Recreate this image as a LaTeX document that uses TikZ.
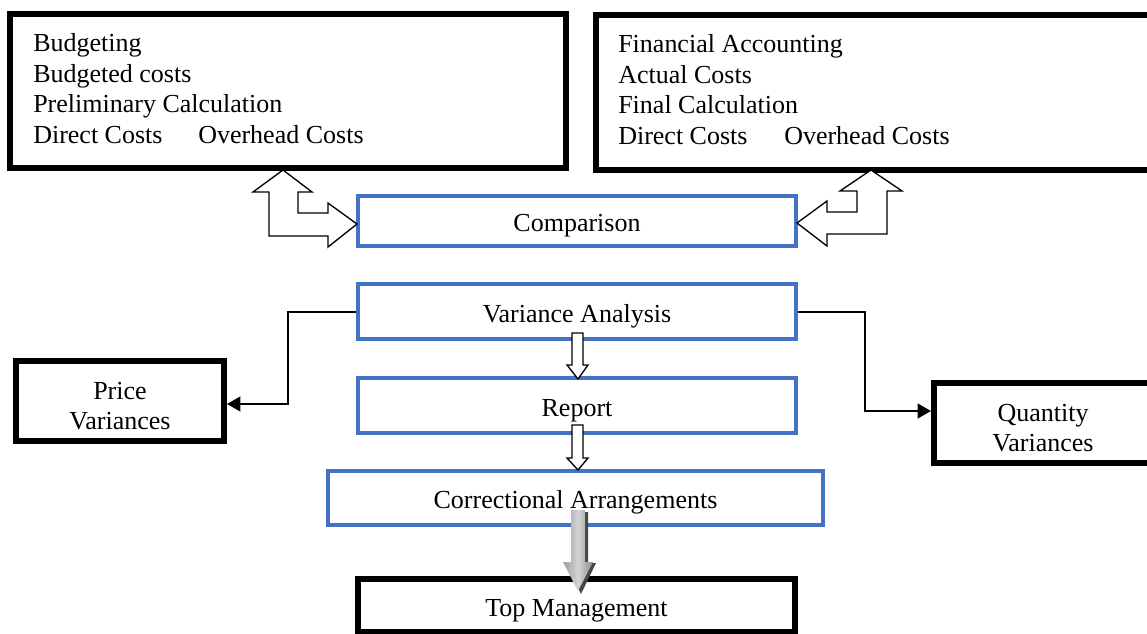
\documentclass[tikz,border=0pt]{standalone}
\usepackage{fontspec}
\setmainfont{Liberation Serif}
\usetikzlibrary{arrows.meta,calc}
\definecolor{boxblue}{HTML}{4472C4}
\tikzset{
  lbl/.style={font=\fontsize{19.5}{22.5}\selectfont, inner sep=0pt},
  blackbox/.style={draw=black, line width=4.5pt, fill=white, inner sep=0pt, font=\fontsize{19.5}{22.5}\selectfont, text height=16pt, text depth=0pt},
  bluebox/.style={draw=boxblue, line width=3pt, fill=white, inner sep=0pt, font=\fontsize{19.5}{22.5}\selectfont, text height=16pt, text depth=0pt},
  conn/.style={draw=black, line width=1.5pt, -{Triangle[length=10pt,width=11pt]}},
  hollow/.style={draw=black, line width=1pt, fill=white, line join=miter}
}
\begin{document}
\begin{tikzpicture}[x=0.75pt,y=-0.75pt]
\useasboundingbox (0,0) rectangle (1147,633);
\clip (0,0) rectangle (1147,633);
\fill[white] (0,0) rectangle (1147,633);

% top boxes
\node[blackbox, minimum width=417pt, minimum height=115.5pt] (tl) at (288,91) {};
\node[blackbox, minimum width=419.25pt, minimum height=116.25pt] (tr) at (875.5,92.5) {};
\node[lbl, anchor=base west] (tl1) at (33,51) {Budgeting};
\node[lbl, anchor=base west] (tl2) at (33,82) {Budgeted costs};
\node[lbl, anchor=base west] (tl3) at (33,112) {Preliminary Calculation};
\node[lbl, anchor=base west] (tl4) at (33,143) {Direct Costs};
\node[lbl, anchor=base west] (tl5) at (198,143) {Overhead Costs};
\node[lbl, anchor=base west] (tr1) at (618,52) {Financial Accounting};
\node[lbl, anchor=base west] (tr2) at (618,83) {Actual Costs};
\node[lbl, anchor=base west] (tr3) at (618,113) {Final Calculation};
\node[lbl, anchor=base west] (tr4) at (618,144) {Direct Costs};
\node[lbl, anchor=base west] (tr5) at (784,144) {Overhead Costs};

% blue boxes
\node[bluebox, minimum width=328.5pt, minimum height=37.5pt] (cmp) at (577,221) {Comparison};
\node[bluebox, minimum width=328.5pt, minimum height=41.25pt] (var) at (577,311.5) {Variance Analysis};
\node[bluebox, minimum width=328.5pt, minimum height=41.25pt] (rep) at (577,405.5) {Report};
\node[bluebox, minimum width=371.25pt, minimum height=40.5pt] (cor) at (575.5,498) {Correctional Arrangements};

% side boxes
\node[blackbox, minimum width=156pt, minimum height=60pt] (price) at (120,401) {};
\node[lbl, align=center] (pricetxt) at (120,406) {Price\\Variances};
\node[blackbox, minimum width=163.5pt, minimum height=60pt] (qty) at (1043,423) {};
\node[lbl, align=center] (qtytxt) at (1043,428) {Quantity\\Variances};
\node[blackbox, minimum width=327.75pt, minimum height=39.75pt] (top) at (576.5,605.5) {Top Management};

% hollow double arrows
\draw[hollow] (283,170) -- (312,192) -- (298,192) -- (298,213) -- (328,213) -- (328,203) -- (357,224)
  -- (328,247) -- (328,236) -- (269,236) -- (269,192) -- (253,192) -- cycle;
\draw[hollow] (871,170) -- (902,191) -- (887,191) -- (887,234) -- (827,234) -- (827,246) -- (797,223)
  -- (827,201) -- (827,212) -- (857,212) -- (857,191) -- (840,191) -- cycle;

% small hollow down arrows
\draw[hollow] (572,333) -- (583,333) -- (583,365) -- (588,365) -- (578,379) -- (567,365) -- (572,365) -- cycle;
\draw[hollow] (572,425) -- (583,425) -- (583,458) -- (588,458) -- (578,470) -- (567,458) -- (572,458) -- cycle;

% gray shaded arrow
\fill[gray!55!black] (574,512) -- (588,512) -- (588,563) -- (596,563) -- (581,594) -- (566,563) -- (574,563) -- cycle;
\shade[left color=gray!75, right color=gray!90, middle color=gray!35]
  (571,510) -- (585,510) -- (585,562) -- (593,562) -- (578,591) -- (563,562) -- (571,562) -- cycle;

% connectors
\draw[conn] (var.west) -- ++(-68,0) |- ($(price.east)+(0,3)$);
\draw[conn] (var.east) -- ++(67,0) |- ($(qty.west)+(0,-12)$);
\end{tikzpicture}
\end{document}
